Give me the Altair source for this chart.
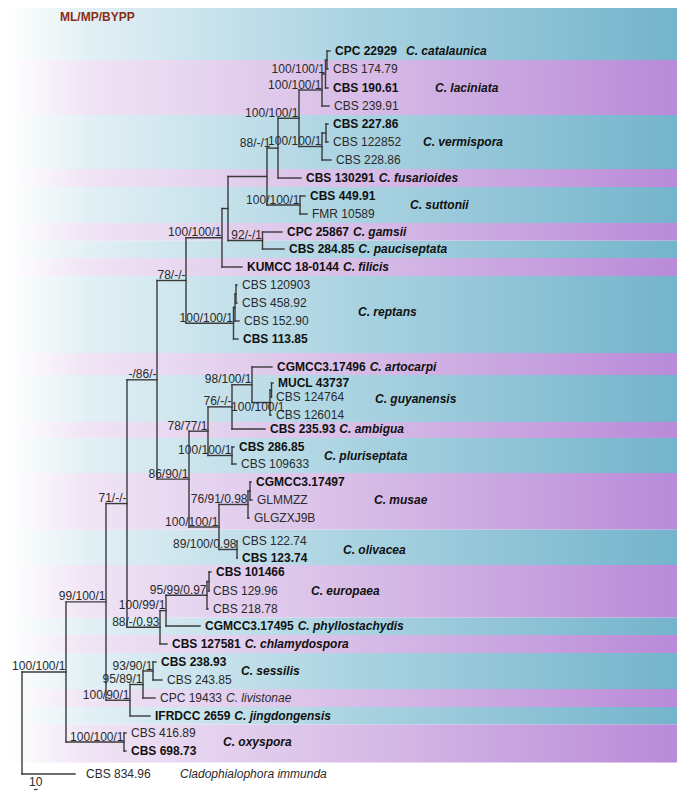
import altair as alt
import pandas as pd

# ---------------- data ----------------
strains = ["CPC 22929", "CBS 174.79", "CBS 190.61", "CBS 239.91", "CBS 227.86", "CBS 122852",
           "CBS 228.86", "CBS 130291", "CBS 449.91", "FMR 10589", "CPC 25867", "CBS 284.85",
           "KUMCC 18-0144", "CBS 120903", "CBS 458.92", "CBS 152.90", "CBS 113.85", "CGMCC3.17496",
           "MUCL 43737", "CBS 124764", "CBS 126014", "CBS 235.93", "CBS 286.85", "CBS 109633",
           "CGMCC3.17497", "GLMMZZ", "GLGZXJ9B", "CBS 122.74", "CBS 123.74", "CBS 101466",
           "CBS 129.96", "CBS 218.78", "CGMCC3.17495", "CBS 127581", "CBS 238.93", "CBS 243.85",
           "CPC 19433", "IFRDCC 2659", "CBS 416.89", "CBS 698.73", "CBS 834.96"]
type_strain = [1, 0, 1, 0, 1, 0, 0, 1, 1, 0, 1, 1, 1, 0, 0, 0, 1, 1, 1, 0, 0, 1, 1, 0,
               1, 0, 0, 0, 1, 1, 0, 0, 1, 1, 1, 0, 0, 1, 0, 1, 0]
inline_species = {0: "C. catalaunica", 7: "C. fusarioides", 10: "C. gamsii", 11: "C. pauciseptata",
                  12: "C. filicis", 17: "C. artocarpi", 21: "C. ambigua", 32: "C. phyllostachydis",
                  33: "C. chlamydospora", 36: "C. livistonae", 37: "C. jingdongensis"}
# vertical position of each tip (tree row) and tip distance from the root
leaf_row = [51, 69, 88, 106, 124, 142, 160, 178, 196, 214, 232, 249, 267, 285, 303, 321, 339,
            367, 383, 397, 415, 429, 447, 464, 482, 500, 518, 541, 558, 572, 591, 609, 626,
            644, 662, 680, 698, 716, 733, 751, 774]
leaf_dist = [330, 328, 328, 329, 328, 328, 331, 301, 305, 307, 282, 284, 242, 237, 237, 239, 238,
             272, 273, 271, 271, 265, 234, 236, 251, 252, 249, 237, 237, 211, 208, 208, 200,
             167, 156, 162, 155, 150, 126, 126, 75]

# internal nodes: id, distance, children, support (ML/MP/BYPP)
node_ids = ["nA1", "A", "B", "V1", "V", "C", "D", "SU", "E", "GP", "F", "G", "R1", "R2", "RE", "H",
            "GU1", "GU", "N", "M", "PL", "K", "MU1", "MU", "OL", "L", "J", "I", "EU1", "EU", "S",
            "RR", "Q", "W", "Vn", "U", "N2", "OX", "N1", "ROOT"]
node_dist = [327, 325.5, 322, 326, 322, 299, 278, 300, 267, 262.5, 228, 222, 236, 235, 233.5, 186,
             271.5, 270, 252, 232, 232, 208, 250, 248, 237, 219, 189, 157, 209, 207, 166,
             160, 127, 153, 143, 130, 106, 124, 66, 22]
node_children = [["CPC 22929", "CBS 174.79"], ["nA1", "CBS 190.61"], ["A", "CBS 239.91"],
                 ["CBS 227.86", "CBS 122852"], ["V1", "CBS 228.86"], ["B", "V"], ["C", "CBS 130291"],
                 ["CBS 449.91", "FMR 10589"], ["D", "SU"], ["CPC 25867", "CBS 284.85"], ["E", "GP"],
                 ["F", "KUMCC 18-0144"], ["CBS 120903", "CBS 458.92"], ["R1", "CBS 152.90"],
                 ["R2", "CBS 113.85"], ["G", "RE"], ["MUCL 43737", "CBS 124764"], ["GU1", "CBS 126014"],
                 ["CGMCC3.17496", "GU"], ["N", "CBS 235.93"], ["CBS 286.85", "CBS 109633"], ["M", "PL"],
                 ["CGMCC3.17497", "GLMMZZ"], ["MU1", "GLGZXJ9B"], ["CBS 122.74", "CBS 123.74"],
                 ["MU", "OL"], ["K", "L"], ["H", "J"], ["CBS 101466", "CBS 129.96"], ["EU1", "CBS 218.78"],
                 ["EU", "CGMCC3.17495"], ["S", "CBS 127581"], ["I", "RR"], ["CBS 238.93", "CBS 243.85"],
                 ["W", "CPC 19433"], ["Vn", "IFRDCC 2659"], ["Q", "U"], ["CBS 416.89", "CBS 698.73"],
                 ["N2", "OX"], ["N1", "CBS 834.96"]]
node_support = ["", "100/100/1", "100/100/1", "", "100/100/1", "100/100/1", "88/-/1", "100/100/1", "",
                "92/-/1", "", "100/100/1", "", "", "100/100/1", "78/-/-", "", "100/100/1", "98/100/1",
                "76/-/-", "100/100/1", "78/77/1", "", "76/91/0.98", "89/100/0.98", "100/100/1", "86/90/1",
                "-/86/-", "", "95/99/0.97", "100/99/1", "88/-/0.93", "71/-/-", "93/90/1", "95/89/1",
                "100/90/1", "99/100/1", "100/100/1", "100/100/1", ""]

# species groups (first tip, last tip, band colour, clade label and its position)
group_first = [0, 1, 4, 7, 8, 10, 11, 12, 13, 17, 18, 21, 22, 24, 27, 29, 32, 33, 34, 36, 37, 38]
group_last = [0, 3, 6, 7, 9, 10, 11, 12, 16, 17, 20, 21, 23, 26, 28, 31, 32, 33, 35, 36, 37, 39]
group_band = ["b", "p", "b", "p", "b", "p", "b", "p", "b", "p", "b", "p", "b", "p", "b", "p", "b",
              "p", "b", "p", "b", "p"]
clade_names = ["C. laciniata", "C. vermispora", "C. suttonii", "C. reptans", "C. guyanensis",
               "C. pluriseptata", "C. musae", "C. olivacea", "C. europaea", "C. sessilis", "C. oxyspora"]
clade_group = [1, 2, 4, 8, 10, 12, 13, 14, 15, 18, 21]
clade_x = [435, 423, 410, 358, 375, 324, 374, 343, 311, 241, 223]
outgroup_name = "Cladophialophora immunda"
outgroup_name_x = 180
scale_bar_label = "10"
scale_bar = [34, 37.5]
support_title = "ML/MP/BYPP"

# ---------------- layout helpers ----------------
W, H = 669, 784
FONT = "Liberation Sans"
XS = alt.Scale(domain=[8, 8 + W], range=[0, W])
YS = alt.Scale(domain=[8, 8 + H], range=[0, H])

REG = {" ": 278, ".": 278, "-": 333, "B": 667, "C": 722, "D": 722, "F": 611, "G": 778, "I": 278,
       "J": 500, "K": 667, "L": 556, "M": 833, "P": 667, "R": 722, "S": 667, "U": 722, "X": 667, "Z": 611}
BLD = {" ": 278, ".": 278, "-": 333, "B": 722, "C": 722, "D": 722, "F": 611, "G": 778, "I": 278,
       "J": 556, "K": 722, "L": 611, "M": 833, "P": 667, "R": 722, "S": 667, "U": 722, "X": 667, "Z": 611}


def text_width(s, bold, size=12):
    t = BLD if bold else REG
    return sum(t.get(ch, 556) for ch in s) * size / 1000.0


leaf_index = {s: i for i, s in enumerate(strains)}
nodes = {n: (d, c, s) for n, d, c, s in zip(node_ids, node_dist, node_children, node_support)}


def ypos(n):
    if n in leaf_index:
        return leaf_row[leaf_index[n]]
    ch = nodes[n][1]
    return (ypos(ch[0]) + ypos(ch[-1])) / 2.0


def xpos(n):
    if n in leaf_index:
        return leaf_dist[leaf_index[n]]
    return nodes[n][0]


segs = []
sup_rows = []
label_nudge = {"GU": (15, 10), "D": (-7, 0)}
for n, (d, ch, s) in nodes.items():
    cy = [ypos(c) for c in ch]
    segs.append(dict(x=d, x2=d, y=min(cy), y2=max(cy)))
    for c in ch:
        segs.append(dict(x=d, x2=xpos(c), y=ypos(c), y2=ypos(c)))
    if s:
        dx, dy = label_nudge.get(n, (0, 0))
        sup_rows.append(dict(x=d - 0.5 + dx, y=ypos(n) - 1.5 + dy, t=s))
seg_df = pd.DataFrame(segs)
sup_df = pd.DataFrame(sup_rows)

leaf_gap = {40: 11}
species_gap = {0: 9}
leaf_rows = []
sp_rows = []
for i, s in enumerate(strains):
    lx = leaf_dist[i] + leaf_gap.get(i, 5)
    leaf_rows.append(dict(x=lx, y=leaf_row[i], t=s, b=type_strain[i]))
    if i in inline_species:
        sp_rows.append(dict(x=lx + text_width(s, type_strain[i]) + species_gap.get(i, 4), y=leaf_row[i],
                            t=inline_species[i], b=type_strain[i]))
leaf_df = pd.DataFrame(leaf_rows)
sp_df = pd.DataFrame(sp_rows)

bands = []
for k in range(len(group_first)):
    top = 8 if k == 0 else (leaf_row[group_last[k - 1]] + leaf_row[group_first[k]]) / 2.0
    nxt = group_last[k] + 1
    bot = (leaf_row[group_last[k]] + leaf_row[nxt]) / 2.0
    bands.append(dict(top=top, bot=bot, c=group_band[k]))
band_df = pd.DataFrame(bands)

clade_rows = []
for name, g, x in zip(clade_names, clade_group, clade_x):
    clade_rows.append(dict(x=x, y=(leaf_row[group_first[g]] + leaf_row[group_last[g]]) / 2.0, t=name))
clade_rows_df = pd.DataFrame(clade_rows)
out_df = pd.DataFrame([dict(x=outgroup_name_x, y=leaf_row[-1], t=outgroup_name)])
title_df = pd.DataFrame([dict(x=60, y=17, t=support_title)])
sb_df = pd.DataFrame([dict(x=scale_bar[0], x2=scale_bar[1], y=789.5, tx=(scale_bar[0] + scale_bar[1]) / 2,
                           ty=782, t=scale_bar_label)])


def grad(stops):
    return {"gradient": "linear", "x1": 0, "y1": 0, "x2": 1, "y2": 0,
            "stops": [{"offset": o, "color": c} for o, c in stops]}


blue = grad([(0, "#ffffff"), (0.12, "#e2f0f5"), (0.5, "#acd4e2"), (1, "#74b4cc")])
purple = grad([(0, "#ffffff"), (0.12, "#f0e4f5"), (0.5, "#d9bfe8"), (1, "#b98ad8")])


def band_layer(code, fill):
    return alt.Chart(band_df).transform_filter(alt.datum.c == code).mark_rect(color=fill).encode(
        x=alt.value(0), x2=alt.value(W),
        y=alt.Y("top:Q", scale=YS, axis=None), y2="bot:Q")


X = alt.X("x:Q", scale=XS, axis=None)
Y = alt.Y("y:Q", scale=YS, axis=None)

tree = alt.Chart(seg_df).mark_rule(color="#3a3a3a", strokeWidth=1.4, strokeCap="square").encode(
    x=X, x2="x2:Q", y=Y, y2="y2:Q")

support = alt.Chart(sup_df).mark_text(align="right", baseline="alphabetic", font=FONT, fontSize=12,
                                      color="#2a2a2a").encode(x=X, y=Y, text="t:N")


def leaf_layer(df, bold, italic=False):
    kw = dict(align="left", baseline="middle", font=FONT, fontSize=12,
              color="#111111" if bold else "#2a2a2a", fontWeight="bold" if bold else "normal")
    if italic:
        kw["fontStyle"] = "italic"
    return alt.Chart(df).transform_filter(alt.datum.b == (1 if bold else 0)).mark_text(**kw).encode(
        x=X, y=Y, text="t:N")


clades = alt.Chart(clade_rows_df).mark_text(align="left", baseline="middle", font=FONT, fontSize=12,
                                            fontWeight="bold", fontStyle="italic", color="#111111").encode(
    x=X, y=Y, text="t:N")
outg = alt.Chart(out_df).mark_text(align="left", baseline="middle", font=FONT, fontSize=12,
                                   fontStyle="italic", color="#2a2a2a").encode(x=X, y=Y, text="t:N")
title = alt.Chart(title_df).mark_text(align="left", baseline="middle", font=FONT, fontSize=12,
                                      fontWeight="bold", color="#8a2d16").encode(x=X, y=Y, text="t:N")
sbar = alt.Chart(sb_df).mark_rule(color="#333333", strokeWidth=1.2).encode(x=X, x2="x2:Q", y=Y)
stext = alt.Chart(sb_df).mark_text(align="center", baseline="middle", font=FONT, fontSize=12,
                                   color="#2a2a2a").encode(
    x=alt.X("tx:Q", scale=XS, axis=None), y=alt.Y("ty:Q", scale=YS, axis=None), text="t:N")

chart = alt.layer(
    band_layer("b", blue), band_layer("p", purple), tree, support,
    leaf_layer(leaf_df, True), leaf_layer(leaf_df, False),
    leaf_layer(sp_df, True, True), leaf_layer(sp_df, False, True),
    clades, outg, title, sbar, stext
).properties(width=W, height=H, padding=0,
             autosize=alt.AutoSizeParams(type="none")).configure_view(stroke=None)

chart.save("out.html", embed_options={"renderer": "svg", "actions": False})
